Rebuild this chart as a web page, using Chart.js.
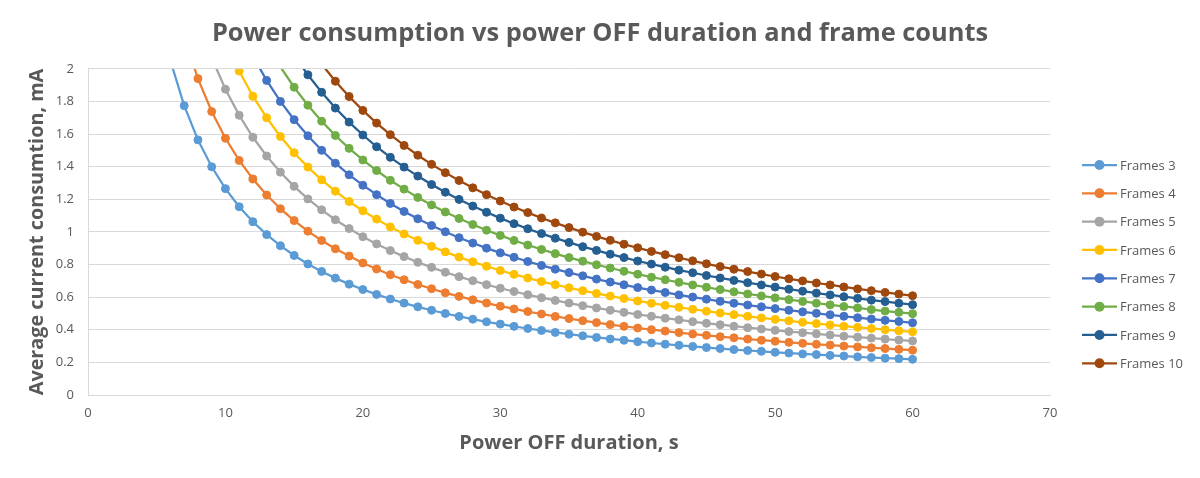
<!DOCTYPE html>
<html>
<head>
<meta charset="utf-8">
<script src="https://cdn.jsdelivr.net/npm/chart.js@4/dist/chart.umd.min.js"></script>
<style>
html,body{margin:0;padding:0;background:#ffffff;}
#wrap{width:1200px;height:478px;position:relative;}
</style>
</head>
<body>
<div id="wrap"><canvas id="c" width="1200" height="478"></canvas></div>
<script>
const chartTitle = 'Power consumption vs power OFF duration and frame counts';
const xAxisTitle = 'Power OFF duration, s';
const yAxisTitle = 'Average current consumtion, mA';
const xTickLabels = ['0','10','20','30','40','50','60','70'];
const yTickLabels = ['0','0.2','0.4','0.6','0.8','1','1.2','1.4','1.6','1.8','2'];
const seriesNames = ['Frames 3','Frames 4','Frames 5','Frames 6','Frames 7','Frames 8','Frames 9','Frames 10'];
const seriesColors = ['#5B9BD5','#ED7D31','#A5A5A5','#FFC000','#4472C4','#70AD47','#255E91','#9E480E'];

const durations = [6,7,8,9,10,11,12,13,14,15,16,17,18,19,20,21,22,23,24,25,26,27,28,29,30,31,32,33,34,35,36,37,38,39,40,41,42,43,44,45,46,47,48,49,50,51,52,53,54,55,56,57,58,59,60];

const frames3 = [2.050,1.775,1.565,1.400,1.266,1.155,1.063,0.984,0.916,0.856,0.804,0.758,0.717,0.680,0.647,0.617,0.589,0.564,0.541,0.520,0.500,0.482,0.465,0.449,0.435,0.421,0.408,0.396,0.384,0.373,0.363,0.353,0.344,0.336,0.327,0.319,0.312,0.305,0.298,0.291,0.285,0.279,0.273,0.268,0.262,0.257,0.252,0.248,0.243,0.239,0.234,0.230,0.226,0.223,0.219];
const frames4 = [null,2.196,1.941,1.739,1.575,1.439,1.325,1.227,1.143,1.070,1.005,0.948,0.897,0.852,0.810,0.773,0.738,0.707,0.678,0.652,0.627,0.605,0.584,0.564,0.545,0.528,0.512,0.497,0.482,0.469,0.456,0.444,0.432,0.421,0.411,0.401,0.392,0.383,0.374,0.366,0.358,0.351,0.343,0.336,0.330,0.323,0.317,0.311,0.306,0.300,0.295,0.290,0.285,0.280,0.275];
const frames5 = [null,null,null,2.069,1.876,1.716,1.581,1.466,1.367,1.280,1.203,1.136,1.075,1.021,0.971,0.927,0.886,0.849,0.814,0.783,0.753,0.726,0.701,0.677,0.655,0.635,0.615,0.597,0.580,0.564,0.548,0.534,0.520,0.507,0.494,0.483,0.471,0.461,0.450,0.440,0.431,0.422,0.413,0.405,0.397,0.389,0.382,0.375,0.368,0.361,0.355,0.349,0.343,0.337,0.332];
const frames6 = [null,null,null,null,2.170,1.987,1.833,1.701,1.586,1.486,1.398,1.320,1.250,1.187,1.130,1.079,1.031,0.988,0.949,0.912,0.878,0.846,0.817,0.790,0.764,0.740,0.718,0.696,0.677,0.658,0.640,0.623,0.607,0.592,0.577,0.563,0.550,0.538,0.526,0.514,0.503,0.493,0.483,0.473,0.464,0.455,0.446,0.438,0.430,0.422,0.415,0.408,0.401,0.394,0.388];
const frames7 = [null,null,null,null,null,null,2.078,1.930,1.801,1.689,1.590,1.501,1.422,1.351,1.287,1.229,1.175,1.126,1.081,1.040,1.001,0.965,0.932,0.901,0.872,0.845,0.819,0.795,0.772,0.751,0.731,0.711,0.693,0.676,0.659,0.644,0.629,0.614,0.601,0.588,0.575,0.563,0.552,0.541,0.530,0.520,0.510,0.501,0.492,0.483,0.474,0.466,0.458,0.451,0.443];
const frames8 = [null,null,null,null,null,null,null,null,2.013,1.888,1.778,1.680,1.592,1.513,1.442,1.377,1.317,1.263,1.212,1.166,1.123,1.083,1.046,1.011,0.979,0.948,0.920,0.893,0.867,0.843,0.821,0.799,0.779,0.759,0.741,0.723,0.707,0.691,0.675,0.661,0.647,0.633,0.620,0.608,0.596,0.585,0.574,0.563,0.553,0.543,0.534,0.524,0.515,0.507,0.499];
const frames9 = [null,null,null,null,null,null,null,null,null,2.085,1.964,1.857,1.760,1.674,1.595,1.523,1.458,1.398,1.343,1.291,1.244,1.200,1.159,1.121,1.085,1.051,1.020,0.990,0.962,0.936,0.910,0.887,0.864,0.843,0.822,0.803,0.784,0.766,0.750,0.733,0.718,0.703,0.689,0.675,0.662,0.649,0.637,0.625,0.614,0.603,0.593,0.582,0.573,0.563,0.554];
const frames10 = [null,null,null,null,null,null,null,null,null,null,null,2.030,1.925,1.831,1.746,1.668,1.597,1.531,1.471,1.415,1.364,1.316,1.271,1.229,1.190,1.153,1.119,1.086,1.056,1.027,0.999,0.973,0.949,0.925,0.903,0.881,0.861,0.842,0.823,0.805,0.788,0.772,0.757,0.742,0.727,0.713,0.700,0.687,0.675,0.663,0.651,0.640,0.629,0.619,0.609];

const allSeries = [frames3,frames4,frames5,frames6,frames7,frames8,frames9,frames10];

const TEXT = '#595959';
const GRID = '#D9D9D9';
const FONT = 'Open Sans';
const Y_MAX = 2;

const datasets = allSeries.map((vals, i) => ({
  label: seriesNames[i],
  data: durations.map((x, j) => ({x: x, y: vals[j]})).filter(p => p.y !== null),
  borderColor: seriesColors[i],
  backgroundColor: seriesColors[i],
  borderWidth: 2.25,
  pointRadius: ctx => (ctx.raw && ctx.raw.y > Y_MAX) ? 0 : 4,
  pointBorderWidth: 1,
  pointBackgroundColor: seriesColors[i],
  pointBorderColor: seriesColors[i],
  tension: 0,
  yAxisID: 'y',
  clip: {left: 6, top: 0, right: 6, bottom: 6}
}));

const sideLegend = {
  id: 'sideLegend',
  afterDraw(chart) {
    const ctx = chart.ctx;
    const opts = chart.options.plugins.sideLegend;
    ctx.save();
    chart.data.datasets.forEach((ds, i) => {
      const y = opts.top + i * opts.step;
      ctx.strokeStyle = ds.borderColor;
      ctx.lineWidth = 2.25;
      ctx.beginPath();
      ctx.moveTo(opts.left, y);
      ctx.lineTo(opts.left + opts.lineLen, y);
      ctx.stroke();
      ctx.fillStyle = ds.borderColor;
      ctx.beginPath();
      ctx.arc(opts.left + opts.lineLen / 2, y, 5, 0, Math.PI * 2);
      ctx.fill();
      ctx.fillStyle = TEXT;
      ctx.font = '13px "' + FONT + '"';
      ctx.textBaseline = 'middle';
      ctx.textAlign = 'left';
      ctx.fillText(ds.label, opts.left + opts.lineLen + 3, y + 1);
    });
    ctx.restore();
  }
};

new Chart(document.getElementById('c'), {
  type: 'line',
  data: {datasets: datasets},
  plugins: [sideLegend],
  options: {
    responsive: false,
    animation: false,
    events: [],
    layout: {padding: 0},
    plugins: {
      legend: {display: false},
      tooltip: {enabled: false},
      sideLegend: {left: 1082, top: 165, step: 28.33, lineLen: 35},
      title: {
        display: true,
        text: chartTitle,
        color: TEXT,
        font: {family: FONT, size: 25.4, weight: 'bold'},
        padding: {top: 18.5, bottom: 20}
      }
    },
    scales: {
      x: {
        type: 'linear',
        min: 0, max: 70,
        ticks: {stepSize: 10, color: TEXT, font: {family: FONT, size: 13}, padding: 10,
          callback: v => xTickLabels[Math.round(v / 10)]},
        grid: {display: false, drawTicks: false},
        border: {display: true, color: GRID, width: 1},
        title: {display: true, text: xAxisTitle, color: TEXT,
          font: {family: FONT, size: 20, weight: 'bold'}, padding: {top: 0, bottom: 23}},
        afterFit: s => { s.height = 83; }
      },
      y: {
        min: 0, max: Y_MAX,
        ticks: {stepSize: 0.2, color: TEXT, font: {family: FONT, size: 13}, padding: 14,
          callback: v => yTickLabels[Math.round(v * 5)]},
        grid: {color: GRID, lineWidth: 1, drawTicks: false},
        border: {display: true, color: GRID, width: 1},
        title: {display: true, text: yAxisTitle, color: TEXT,
          font: {family: FONT, size: 19.8, weight: 'bold'}, padding: {top: 25, bottom: 0}},
        afterFit: s => { s.width = 88; }
      },
      legendSpace: {
        position: 'right',
        min: 0, max: Y_MAX,
        ticks: {display: false},
        grid: {display: false, drawTicks: false},
        border: {display: false},
        afterFit: s => { s.width = 150; }
      }
    }
  }
});
</script>
</body>
</html>
